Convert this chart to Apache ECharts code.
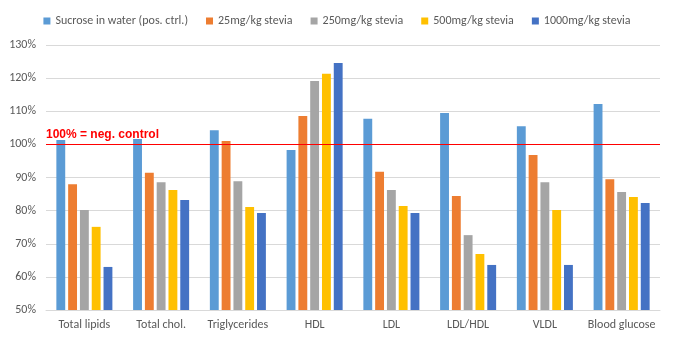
<!DOCTYPE html>
<html>
<head>
<meta charset="utf-8">
<script src="https://cdn.jsdelivr.net/npm/echarts@6/dist/echarts.min.js"></script>
<style>
  html, body { margin: 0; padding: 0; background: #fff; }
  #chart { width: 674px; height: 341px; }
</style>
</head>
<body>
<div id="chart"></div>
<script>
// Lipid and glucose levels relative to the negative control (%)
const categories = ['Total lipids', 'Total chol.', 'Triglycerides', 'HDL', 'LDL', 'LDL/HDL', 'VLDL', 'Blood glucose'];
const seriesNames = ['Sucrose in water (pos. ctrl.)', '25mg/kg stevia', '250mg/kg stevia', '500mg/kg stevia', '1000mg/kg stevia'];
const sucrose   = [101.3, 101.6, 104.3, 98.3, 107.7, 109.5, 105.5, 112.2];
const stevia25  = [88.0, 91.4, 101.0, 108.6, 91.7, 84.4, 96.8, 89.5];
const stevia250 = [80.2, 88.6, 88.9, 119.1, 86.2, 72.6, 88.6, 85.6];
const stevia500 = [75.1, 86.2, 81.1, 121.3, 81.4, 66.9, 80.2, 84.1];
const stevia1000 = [63.0, 83.2, 79.3, 124.6, 79.3, 63.6, 63.6, 82.3];
const referenceLevel = 100;
const referenceLabel = '100% = neg. control';

const colors = ['#5B9BD5', '#ED7D31', '#A5A5A5', '#FFC000', '#4472C4'];
const values = [sucrose, stevia25, stevia250, stevia500, stevia1000];
const font = 'Carlito, Calibri, "Liberation Sans", Arial, sans-serif';

const series = seriesNames.map((name, i) => {
  const s = {
    name: name,
    type: 'bar',
    data: values[i],
    barGap: '33%',
    barCategoryGap: '27%',
    itemStyle: { color: colors[i] }
  };
  if (i === 0) {
    s.markLine = {
      silent: true,
      symbol: 'none',
      z: 10,
      lineStyle: { color: '#FF0000', width: 1.2, type: 'solid' },
      label: {
        show: true,
        position: 'insideStartTop',
        formatter: referenceLabel,
        color: '#FF0000',
        fontWeight: 'bold',
        fontSize: 12,
        fontFamily: 'Arial, "Liberation Sans", sans-serif',
        distance: [0, 4]
      },
      data: [{ yAxis: referenceLevel }]
    };
  }
  return s;
});

const chart = echarts.init(document.getElementById('chart'), null, { renderer: 'canvas' });
chart.setOption({
  animation: false,
  backgroundColor: '#ffffff',
  color: colors,
  textStyle: { fontFamily: font },
  legend: {
    top: 10,
    left: 'center',
    itemWidth: 7,
    itemHeight: 7,
    itemGap: 18,
    icon: 'rect',
    textStyle: { color: '#595959', fontSize: 12, fontFamily: font }
  },
  grid: { left: 46, right: 14, top: 45, bottom: 31, containLabel: false },
  xAxis: {
    type: 'category',
    data: categories,
    axisLine: { lineStyle: { color: '#D9D9D9', width: 1 } },
    axisTick: { show: false },
    axisLabel: { color: '#595959', fontSize: 12, margin: 9, fontFamily: font, interval: 0 }
  },
  yAxis: {
    type: 'value',
    min: 50,
    max: 130,
    interval: 10,
    axisLine: { show: false },
    axisTick: { show: false },
    splitLine: { lineStyle: { color: '#D9D9D9', width: 1 } },
    axisLabel: { color: '#595959', fontSize: 12, margin: 10, fontFamily: font, formatter: '{value}%' }
  },
  series: series
});
</script>
</body>
</html>
